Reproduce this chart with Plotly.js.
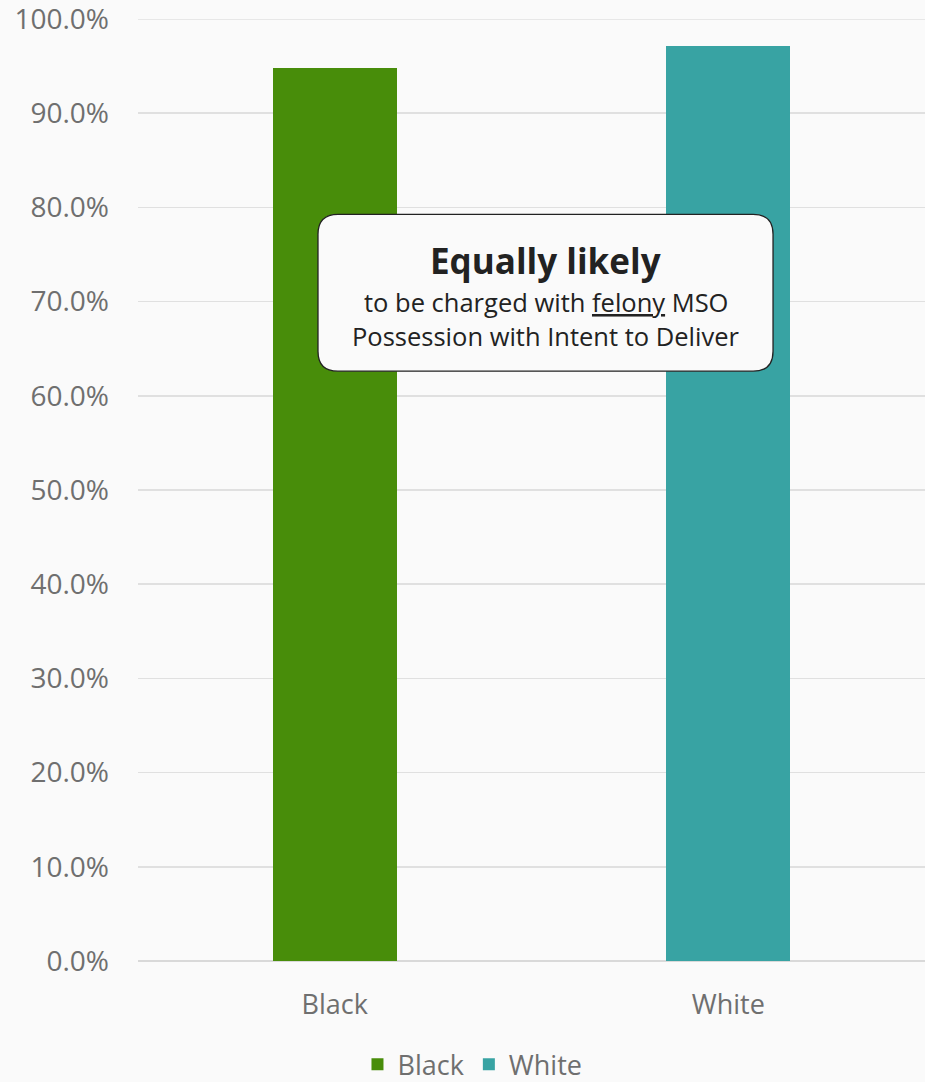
<!DOCTYPE html>
<html>
<head>
<meta charset="utf-8">
<script src="https://cdn.plot.ly/plotly-3.0.1.min.js"></script>
<style>
html,body{margin:0;padding:0;background:#fafafa;}
#chart{width:925px;height:1082px;}
</style>
</head>
<body>
<div id="chart"></div>
<script>
const categories = ["Black", "White"];
const seriesNames = ["Black", "White"];
const values = [94.8, 97.1];
const colors = ["#488d0a", "#38a3a3"];
const yTicks = [0, 10, 20, 30, 40, 50, 60, 70, 80, 90, 100];
const yMax = 100;

const FONT = "Open Sans, Lato, sans-serif";

const traces = seriesNames.map((name, i) => ({
  type: "bar",
  name: name,
  x: [categories[i]],
  y: [values[i]],
  width: 0.315,
  marker: {color: colors[i]},
  hoverinfo: "skip"
}));

function roundedRect(x0, y0, x1, y1, rx, ry) {
  return `M ${x0+rx} ${y0} L ${x1-rx} ${y0} Q ${x1} ${y0} ${x1} ${y0-ry} ` +
         `L ${x1} ${y1+ry} Q ${x1} ${y1} ${x1-rx} ${y1} ` +
         `L ${x0+rx} ${y1} Q ${x0} ${y1} ${x0} ${y1+ry} ` +
         `L ${x0} ${y0-ry} Q ${x0} ${y0} ${x0+rx} ${y0} Z`;
}

const layout = {
  width: 925,
  height: 1082,
  paper_bgcolor: "#fafafa",
  plot_bgcolor: "#fafafa",
  margin: {l: 138, r: 0, t: 19, b: 121, pad: 0, autoexpand: false},
  barmode: "overlay",
  bargap: 0,
  font: {family: FONT, color: "#6f6f6f", size: 28},
  xaxis: {
    type: "category",
    categoryarray: categories,
    showgrid: false,
    zeroline: false,
    showline: false,
    ticks: "",
    tickfont: {size: 27, color: "#6f6f6f", family: FONT},
    ticklabelstandoff: 25
  },
  yaxis: {
    range: [0, yMax],
    tickvals: yTicks,
    ticktext: yTicks.map(v => v.toFixed(1) + "%"),
    showgrid: true,
    gridcolor: "#e0e0e0",
    gridwidth: 1.5,
    zeroline: true,
    zerolinecolor: "#d9d9d9",
    zerolinewidth: 1.5,
    showline: false,
    ticks: "",
    tickfont: {size: 28, color: "#6f6f6f", family: FONT},
    ticklabelstandoff: 28,
    ticklabeloverflow: "allow"
  },
  legend: {
    orientation: "h",
    x: 0.425,
    xanchor: "center",
    y: -0.11,
    yanchor: "middle",
    font: {size: 27, color: "#6f6f6f", family: FONT},
    bgcolor: "rgba(0,0,0,0)",
    itemwidth: 30,
    traceorder: "normal"
  },
  shapes: [
    {
      type: "line",
      xref: "paper", yref: "y",
      x0: 0, x1: 1, y0: yMax, y1: yMax,
      line: {color: "#e0e0e0", width: 1.5},
      layer: "below"
    },
    {
      type: "path",
      xref: "paper",
      yref: "paper",
      path: roundedRect(0.2287, 0.7927, 0.8069, 0.6261, 0.0254, 0.0212),
      fillcolor: "#fafafa",
      line: {color: "#222222", width: 1.3},
      layer: "above"
    }
  ],
  annotations: [
    {
      xref: "paper", yref: "paper",
      x: 0.5178, y: 0.7438,
      xanchor: "center", yanchor: "middle",
      text: "<b>Equally likely</b>",
      showarrow: false,
      font: {size: 35, color: "#222222", family: FONT}
    },
    {
      xref: "paper", yref: "paper",
      x: 0.5178, y: 0.6994,
      xanchor: "center", yanchor: "middle",
      text: "to be charged with <u>felony</u> MSO",
      showarrow: false,
      font: {size: 25.5, color: "#222222", family: FONT}
    },
    {
      xref: "paper", yref: "paper",
      x: 0.5178, y: 0.6633,
      xanchor: "center", yanchor: "middle",
      text: "Possession with Intent to Deliver",
      showarrow: false,
      font: {size: 25.5, color: "#222222", family: FONT}
    }
  ]
};

Plotly.newPlot("chart", traces, layout, {displayModeBar: false, staticPlot: true});
</script>
</body>
</html>
